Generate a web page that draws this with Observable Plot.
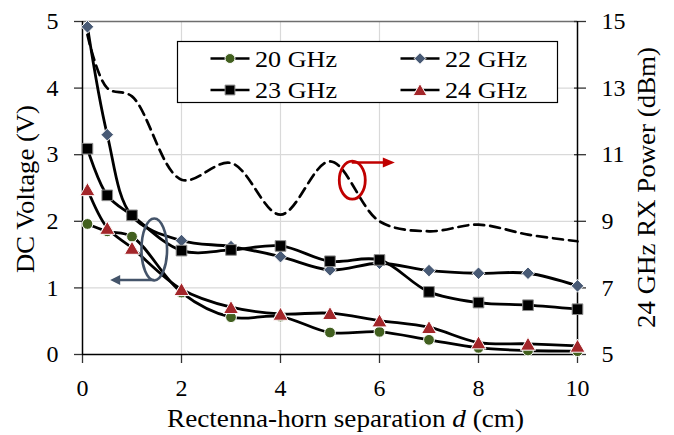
<!DOCTYPE html>
<html><head><meta charset="utf-8">
<script src="https://cdn.jsdelivr.net/npm/d3@7"></script>
<script src="https://cdn.jsdelivr.net/npm/@observablehq/plot@0.6"></script>
<style>body{margin:0;background:#fff;}</style>
</head><body><div id="chart"></div>
<script>
// ---- data ----
const distance = [0.1, 0.5, 1, 2, 3, 4, 5, 6, 7, 8, 9, 10];
const dc20GHz = [1.96, 1.85, 1.77, 0.93, 0.56, 0.57, 0.33, 0.34, 0.22, 0.10, 0.06, 0.05];
const dc22GHz = [4.92, 3.30, 2.08, 1.71, 1.62, 1.47, 1.27, 1.37, 1.26, 1.22, 1.22, 1.03];
const dc23GHz = [3.09, 2.39, 2.09, 1.56, 1.57, 1.63, 1.40, 1.42, 0.94, 0.78, 0.74, 0.68];
const dc24GHz = [2.48, 1.90, 1.60, 0.98, 0.71, 0.61, 0.62, 0.51, 0.41, 0.18, 0.16, 0.13];
const rxPower24GHz = [14.6, 13.0, 12.75, 10.25, 10.75, 9.2, 10.8, 9.0, 8.7, 8.9, 8.6, 8.4];
const seriesNames = ["20 GHz", "22 GHz", "23 GHz", "24 GHz"];
const xTicks = [0, 2, 4, 6, 8, 10];
const yTicks = [0, 1, 2, 3, 4, 5];
const rxTicks = [5, 7, 9, 11, 13, 15];
const xTitle = "Rectenna-horn separation ";
const yTitle = "DC Voltage (V)";
const y2Title = "24 GHz RX Power (dBm)";

// right axis (dBm) mapped onto the left (V) scale
const toV = p => (p - rxTicks[0]) * (yTicks[yTicks.length - 1] - yTicks[0]) / (rxTicks[rxTicks.length - 1] - rxTicks[0]);
const fromV = v => Math.round(rxTicks[0] + v * (rxTicks[rxTicks.length - 1] - rxTicks[0]) / (yTicks[yTicks.length - 1] - yTicks[0]));

const font = "'Liberation Serif','Times New Roman',serif";
const series = [
  {name: seriesNames[0], values: dc20GHz, symbol: "circle", fill: "#42601f", stroke: "#fff", r: 5.4, dy: 0},
  {name: seriesNames[1], values: dc22GHz, symbol: "diamond2", fill: "#485a75", stroke: "#fff", r: 5.7, dy: 0},
  {name: seriesNames[2], values: dc23GHz, symbol: "square", fill: "#000", stroke: "#8c8c8c", r: 6.0, dy: 0},
  {name: seriesNames[3], values: dc24GHz, symbol: "triangle", fill: "#a3262a", stroke: "#fff", r: 5.6, dy: 2}
];
const rows = series.flatMap(s => distance.map((d, i) => ({d, v: s.values[i], name: s.name})));
const rxRows = distance.map((d, i) => ({d, p: rxPower24GHz[i]}));

const plot = Plot.plot({
  width: 674, height: 435,
  marginLeft: 82, marginRight: 97, marginTop: 21, marginBottom: 81,
  x: {domain: [xTicks[0], xTicks[xTicks.length - 1]]},
  y: {domain: [yTicks[0], yTicks[yTicks.length - 1]]},
  style: {fontFamily: font, fontSize: "24px", color: "#000", background: "#fff", overflow: "visible"},
  marks: [
    Plot.gridX(xTicks.slice(1, -1), {stroke: "#d9d9d9", strokeOpacity: 1, strokeWidth: 1.2}),
    Plot.gridY(yTicks.slice(1, -1), {stroke: "#d9d9d9", strokeOpacity: 1, strokeWidth: 1.2}),
    Plot.ruleY([yTicks[yTicks.length - 1]], {stroke: "#6e6e6e", strokeWidth: 1.3}),
    Plot.axisX(xTicks, {tickSize: 9, tickPadding: 15, label: null, tickFormat: d => String(d), stroke: "#333", strokeWidth: 1.3}),
    Plot.axisY(yTicks, {anchor: "left", tickSize: 8, tickPadding: 16, label: null, tickFormat: d => String(d), stroke: "#333", strokeWidth: 1.3}),
    Plot.axisY(rxTicks.map(toV), {anchor: "right", tickSize: 12, dx: -4, tickPadding: 16, label: null, tickFormat: fromV, stroke: "#333", strokeWidth: 1.3}),
    Plot.ruleX([xTicks[0]], {stroke: "#000", strokeWidth: 1.5}),
    Plot.ruleX([xTicks[xTicks.length - 1]], {stroke: "#000", strokeWidth: 1.5}),
    Plot.ruleY([yTicks[0]], {stroke: "#000", strokeWidth: 1.5}),
    Plot.line(rxRows, {x: "d", y: r => toV(r.p), stroke: "#000", strokeWidth: 2.7, strokeDasharray: "10,6", curve: "catmull-rom"}),
    ...series.map(s => Plot.line(rows.filter(r => r.name === s.name), {x: "d", y: "v", stroke: "#000", strokeWidth: 2.8, curve: "catmull-rom"})),
    ...series.map(s => Plot.dot(rows.filter(r => r.name === s.name), {x: "d", y: "v", symbol: s.symbol, r: s.r, fill: s.fill, stroke: s.stroke, strokeWidth: 1, dy: s.dy}))
  ]
});

const svg = d3.select(plot);
const X = v => plot.scale("x").apply(v);
const Y = v => plot.scale("y").apply(v);

// axis titles
const titles = svg.append("g").attr("font-family", font).attr("font-size", 25).attr("fill", "#000");
const xt = titles.append("text").attr("text-anchor", "start").attr("x", 167).attr("y", 426.5);
xt.append("tspan").text(xTitle);
xt.append("tspan").attr("font-style", "italic").text("d");
xt.append("tspan").text(" (cm)");
xt.attr("textLength", 357).attr("lengthAdjust", "spacingAndGlyphs");
titles.append("text").attr("text-anchor", "start").attr("transform", "translate(34,273) rotate(-90)")
  .text(yTitle).attr("textLength", 168).attr("lengthAdjust", "spacingAndGlyphs");
titles.append("text").attr("text-anchor", "start").attr("transform", "translate(655,328) rotate(-90)")
  .text(y2Title).attr("textLength", 281).attr("lengthAdjust", "spacingAndGlyphs");

// annotations (data coordinates)
const ann = svg.append("g");
const blue = "#44546a", red = "#c00000";
ann.append("ellipse").attr("cx", X(1.46)).attr("cy", Y(1.57)).attr("rx", 12.8).attr("ry", 31)
  .attr("fill", "none").attr("stroke", blue).attr("stroke-width", 2.6);
ann.append("line").attr("x1", X(1.46)).attr("y1", Y(1.11)).attr("x2", X(0.57) + 9).attr("y2", Y(1.11))
  .attr("stroke", blue).attr("stroke-width", 2.6);
ann.append("path").attr("d", `M${X(0.57)},${Y(1.11)} l10,-5 l0,10 z`).attr("fill", blue);
ann.append("ellipse").attr("cx", X(5.46)).attr("cy", Y(2.61)).attr("rx", 13).attr("ry", 19)
  .attr("fill", "none").attr("stroke", red).attr("stroke-width", 2.8);
ann.append("line").attr("x1", X(5.45)).attr("y1", Y(2.875)).attr("x2", X(6.32) - 10).attr("y2", Y(2.875))
  .attr("stroke", red).attr("stroke-width", 2.6);
ann.append("path").attr("d", `M${X(6.32)},${Y(2.875)} l-12,-5 l0,10 z`).attr("fill", red);

// legend
const lg = svg.append("g").attr("font-family", font).attr("font-size", 24).attr("text-anchor", "start");
lg.append("rect").attr("x", 177.5).attr("y", 41.5).attr("width", 380).attr("height", 61)
  .attr("fill", "#fff").attr("stroke", "#000").attr("stroke-width", 1.2);
const pos = [[230, 58.5], [420, 58.5], [230, 90], [420, 90]];
const symMap = {circle: d3.symbolCircle, diamond2: d3.symbolDiamond2, square: d3.symbolSquare, triangle: d3.symbolTriangle};
series.forEach((s, i) => {
  const [cx, cy] = pos[i];
  lg.append("line").attr("x1", cx - 19.5).attr("x2", cx + 19.5).attr("y1", cy).attr("y2", cy)
    .attr("stroke", "#000").attr("stroke-width", 2.6);
  lg.append("path").attr("transform", `translate(${cx},${cy + s.dy * 0.8})`)
    .attr("d", d3.symbol(symMap[s.symbol], Math.PI * s.r * s.r * 0.85)())
    .attr("fill", s.fill).attr("stroke", s.stroke).attr("stroke-width", 1);
  lg.append("text").attr("x", cx + 25).attr("y", cy + 8).text(s.name)
    .attr("textLength", 82).attr("lengthAdjust", "spacingAndGlyphs");
});

document.getElementById("chart").appendChild(plot);
</script>
</body></html>
